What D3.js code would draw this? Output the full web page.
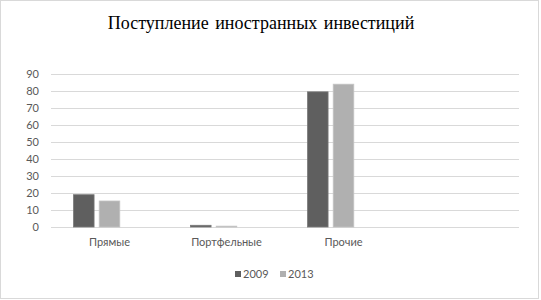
<!DOCTYPE html>
<html>
  <head>
    <meta charset="utf-8">
    <script type="text/javascript" src="https://cdn.jsdelivr.net/npm/d3@7"></script>
    <style>
      body { margin: 0; background: #fff; }
    </style>
  </head>
  <body>
    <script type="text/javascript">
      var w = 541;
      var h = 300;

      // data
      var categories = ["Прямые", "Портфельные", "Прочие", ""];
      var seriesNames = ["2009", "2013"];
      var values2009 = [19, 1, 79.5, 0];
      var values2013 = [15.3, 0.5, 84, 0];
      var yTicks = [0, 10, 20, 30, 40, 50, 60, 70, 80, 90];
      var colors = ["#5f5f5f", "#b0b0b0"];

      var margin = { left: 51, right: 22, top: 74, bottom: 73 };

      var svg = d3.select("body").append("svg")
        .attr("width", w)
        .attr("height", h);

      // outer frame
      svg.append("rect")
        .attr("x", 0.5).attr("y", 0.5)
        .attr("width", 538).attr("height", 298)
        .attr("fill", "#fff")
        .attr("stroke", "#d9d9d9");

      var xScale = d3.scaleBand()
        .domain(categories)
        .range([margin.left, w - margin.right]);

      // three slots per group, the third one is left empty (as in the original)
      var x1 = d3.scaleBand()
        .domain([0, 1, 2])
        .range([22.5, 94.5])
        .paddingInner(0.2);

      var yScale = d3.scaleLinear()
        .domain([0, 90])
        .range([h - margin.bottom, margin.top]);

      // gridlines
      svg.append("g")
        .selectAll("line")
        .data(yTicks)
        .enter()
        .append("line")
        .attr("x1", margin.left)
        .attr("x2", w - margin.right)
        .attr("y1", d => Math.round(yScale(d)) + 0.5)
        .attr("y2", d => Math.round(yScale(d)) + 0.5)
        .attr("stroke", "#d9d9d9")
        .attr("stroke-width", 1);

      // y labels
      svg.append("g")
        .selectAll("text")
        .data(yTicks)
        .enter()
        .append("text")
        .text(d => d)
        .attr("x", 39)
        .attr("y", d => yScale(d) + 4)
        .attr("text-anchor", "end")
        .attr("font-family", "Lato, 'Open Sans', sans-serif")
        .attr("font-size", "11px")
        .attr("fill", "#595959");

      // bars
      var rows = categories.map((c, i) => ({ cat: c, vals: [values2009[i], values2013[i]] }));
      var groups = svg.append("g")
        .selectAll("g")
        .data(rows)
        .enter()
        .append("g")
        .attr("transform", d => "translate(" + xScale(d.cat) + ",0)");

      groups.selectAll("rect")
        .data(d => d.vals)
        .enter()
        .append("rect")
        .attr("x", (d, i) => x1(i))
        .attr("width", x1.bandwidth())
        .attr("y", d => yScale(d))
        .attr("height", d => yScale(0) - yScale(d))
        .attr("fill", (d, i) => colors[i])
        .attr("stroke", (d, i) => i === 0 ? "#7a7a7a" : "#c4c4c4")
        .attr("stroke-width", d => d > 0 ? 0.8 : 0);

      // category labels
      svg.append("g")
        .selectAll("text")
        .data(categories)
        .enter()
        .append("text")
        .text(d => d)
        .attr("x", d => xScale(d) + xScale.bandwidth() / 2)
        .attr("y", 246)
        .attr("text-anchor", "middle")
        .attr("font-family", "Lato, 'Open Sans', sans-serif")
        .attr("font-size", "11px")
        .attr("fill", "#595959");

      // title
      svg.append("text")
        .text("Поступление иностранных инвестиций")
        .attr("x", 261)
        .attr("y", 29)
        .attr("text-anchor", "middle")
        .attr("font-family", "'Liberation Serif', serif")
        .attr("font-size", "18px")
        .attr("word-spacing", "2px")
        .attr("fill", "#000");

      // legend
      var legendX = [235, 280];
      var legend = svg.append("g")
        .selectAll("g")
        .data(seriesNames)
        .enter()
        .append("g")
        .attr("transform", (d, i) => "translate(" + legendX[i] + ",271)");
      legend.append("rect")
        .attr("width", 6).attr("height", 6)
        .attr("fill", (d, i) => colors[i]);
      legend.append("text")
        .text(d => d)
        .attr("x", 8)
        .attr("y", 7)
        .attr("font-family", "Lato, 'Open Sans', sans-serif")
        .attr("font-size", "11px")
        .attr("fill", "#595959");
    </script>
  </body>
</html>
